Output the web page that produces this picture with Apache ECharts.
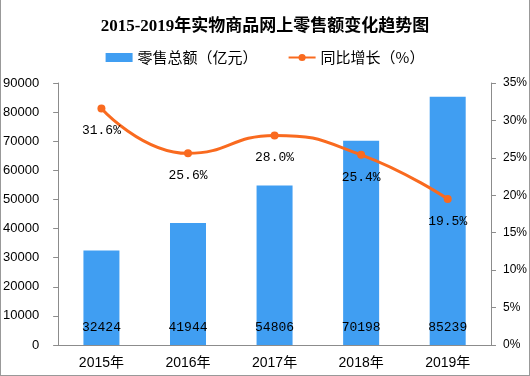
<!DOCTYPE html>
<html>
<head>
<meta charset="utf-8">
<script src="https://cdn.jsdelivr.net/npm/echarts@6/dist/echarts.min.js"></script>
<style>
  html, body { margin: 0; padding: 0; background: #fff; }
  #wrap { position: relative; width: 530px; height: 376px; }
  #chart { width: 530px; height: 376px; }
  #frame { position: absolute; left: 0; top: 0; width: 530px; height: 376px; box-sizing: border-box;
           border-left: 1px solid #999; border-right: 1px solid #999; border-bottom: 1px solid #999; pointer-events: none; }
</style>
</head>
<body>
<div id="wrap">
  <div id="chart"></div>
  <div id="frame"></div>
</div>
<script>
// years on the x axis
var years = ['2015年', '2016年', '2017年', '2018年', '2019年'];
// online retail sales of physical goods (100 million yuan)
var sales = [32424, 41944, 54806, 70198, 85239];
// year on year growth (%)
var growth = [31.6, 25.6, 28.0, 25.4, 19.5];

var axisGray = '#8c8c8c';
var labelFont = '"Liberation Sans", "Noto Sans CJK SC", sans-serif';

var option = {
  animation: false,
  title: {
    text: '2015-2019年实物商品网上零售额变化趋势图',
    left: 'center',
    top: 13,
    textStyle: {
      fontSize: 17,
      fontWeight: 'bold',
      color: '#000',
      fontFamily: '"Liberation Serif", "Noto Sans CJK SC", serif'
    }
  },
  legend: {
    top: 45,
    left: 'center',
    itemGap: 30,
    itemWidth: 27,
    itemHeight: 9,
    textStyle: { fontSize: 15, color: '#000', fontFamily: '"Noto Sans CJK SC", sans-serif' },
    data: [
      { name: '零售总额（亿元）', icon: 'rect' },
      { name: '同比增长（%）' }
    ]
  },
  grid: { left: 58, right: 36, top: 83, bottom: 31 },
  xAxis: {
    type: 'category',
    data: years,
    axisLine: { lineStyle: { color: axisGray } },
    axisTick: { length: 5, lineStyle: { color: axisGray } },
    axisLabel: { fontSize: 14, color: '#000', margin: 11, fontFamily: labelFont }
  },
  yAxis: [
    {
      type: 'value',
      min: 0,
      max: 90000,
      interval: 10000,
      splitLine: { show: false },
      axisLine: { show: true, lineStyle: { color: axisGray } },
      axisTick: { show: true, length: 5, lineStyle: { color: axisGray } },
      axisLabel: { fontSize: 13, color: '#000', margin: 19, fontFamily: labelFont,
                   formatter: function (v) { return String(v); } }
    },
    {
      type: 'value',
      min: 0,
      max: 35,
      interval: 5,
      position: 'right',
      splitLine: { show: false },
      axisLine: { show: true, lineStyle: { color: axisGray } },
      axisTick: { show: true, length: 5, lineStyle: { color: axisGray } },
      axisLabel: { fontSize: 12, color: '#000', margin: 12, formatter: '{value}%', fontFamily: labelFont }
    }
  ],
  series: [
    {
      name: '零售总额（亿元）',
      type: 'bar',
      data: sales,
      barWidth: 36,
      itemStyle: { color: '#409ef2' },
      label: {
        show: true,
        position: 'insideBottom',
        distance: 11,
        color: '#000',
        fontSize: 13,
        fontFamily: '"Liberation Mono", "DejaVu Sans Mono", monospace'
      }
    },
    {
      name: '同比增长（%）',
      type: 'line',
      yAxisIndex: 1,
      data: growth,
      smooth: true,
      symbol: 'circle',
      symbolSize: 8,
      lineStyle: { color: '#f96a1f', width: 3 },
      itemStyle: { color: '#f96a1f' },
      label: {
        show: true,
        position: 'bottom',
        distance: 12,
        color: '#000',
        fontSize: 13,
        fontFamily: '"Liberation Mono", "DejaVu Sans Mono", monospace',
        formatter: function (p) { return p.value.toFixed(1) + '%'; }
      }
    }
  ]
};

var myChart = echarts.init(document.getElementById('chart'));
myChart.setOption(option);
</script>
</body>
</html>
